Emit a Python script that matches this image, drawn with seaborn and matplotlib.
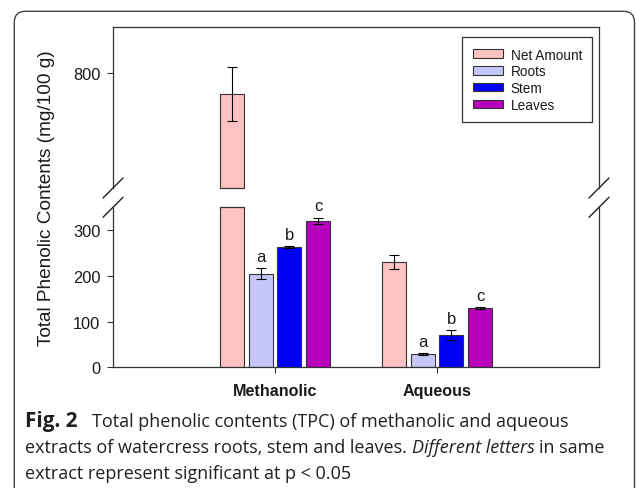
import matplotlib
matplotlib.use("Agg")
import matplotlib.pyplot as plt
import matplotlib.transforms as mtransforms
from matplotlib.patches import FancyBboxPatch
from matplotlib.container import BarContainer
from matplotlib import font_manager
import pandas as pd
import seaborn as sns

# Total phenolic contents (mg/100 g) per extract and plant part
extracts = ["Methanolic", "Aqueous"]
parts = ["Net Amount", "Roots", "Stem", "Leaves"]
tpc_methanolic = [788, 205, 263, 321]
tpc_aqueous = [230, 29, 70, 130]
sd_methanolic = [16, 12, 2.5, 6.5]
sd_aqueous = [15, 2, 11, 1.5]
letters_methanolic = ["", "a", "b", "c"]
letters_aqueous = ["", "a", "b", "c"]
palette = ["#FFC2C2", "#C6C6FA", "#0000F5", "#B800BC"]

lower_ylim = (0, 350)
upper_ylim = (733, 827)

df = pd.DataFrame({
    "extract": [e for e in extracts for _ in parts],
    "part": parts * len(extracts),
    "tpc": tpc_methanolic + tpc_aqueous,
    "sd": sd_methanolic + sd_aqueous,
    "letter": letters_methanolic + letters_aqueous,
})

sns.set_style("ticks")
plt.rcParams["font.family"] = ["Liberation Sans", "DejaVu Sans"]

W_PX, H_PX = 636, 489
fig = plt.figure(figsize=(W_PX / 100, H_PX / 100), dpi=100)

left, right = 113 / W_PX, 599 / W_PX
ax_top = fig.add_axes([left, 1 - 189 / H_PX, right - left, (189 - 28.3) / H_PX])
ax_bot = fig.add_axes([left, 1 - 368.3 / H_PX, right - left, (368.3 - 208.3) / H_PX])

EDGE = "#333333"
TEXT = "#1a1a1a"
bars_of = {}

for ax in (ax_top, ax_bot):
    sns.barplot(data=df, x="extract", y="tpc", hue="part", order=extracts,
                hue_order=parts, palette=palette, saturation=1, width=0.71,
                gap=0.16, errorbar=None, edgecolor=EDGE, linewidth=0.8,
                legend=False, ax=ax)
    bars_of[ax] = [c for c in ax.containers if isinstance(c, BarContainer)]
    ax.set_xlim(-1, 2)
    ax.set_xlabel("")
    ax.set_ylabel("")
    for sp in ax.spines.values():
        sp.set_color(EDGE)
        sp.set_linewidth(0.9)
    ax.tick_params(axis="y", length=4, width=0.8, color=EDGE, pad=5,
                   labelsize=11.8, labelcolor=TEXT)

    # error bars placed on each bar drawn by seaborn
    for part, cont in zip(parts, bars_of[ax]):
        for bar in cont:
            xc = bar.get_x() + bar.get_width() / 2
            ext = extracts[int(round(xc))]
            row = df[(df.extract == ext) & (df.part == part)].iloc[0]
            ax.errorbar(xc, row.tpc, yerr=row.sd, fmt="none", ecolor="black",
                        elinewidth=0.8, capsize=3.6, capthick=0.8)

ax_bot.set_ylim(*lower_ylim)
ax_top.set_ylim(*upper_ylim)
ax_bot.set_yticks([0, 100, 200, 300])
ax_top.set_yticks([800])

ax_top.spines["bottom"].set_visible(False)
ax_bot.spines["top"].set_visible(False)
ax_top.tick_params(axis="x", bottom=False, labelbottom=False)
ax_bot.tick_params(axis="x", length=4, width=0.8, color=EDGE, pad=7,
                   labelsize=11.6, labelcolor=TEXT)
for lbl in ax_bot.get_xticklabels():
    lbl.set_fontweight("bold")

# close off bars that cross the axis break
for cont in bars_of[ax_bot]:
    for bar in cont:
        if bar.get_height() > lower_ylim[1]:
            ax_bot.plot([bar.get_x(), bar.get_x() + bar.get_width()],
                        [lower_ylim[1]] * 2, color=EDGE, lw=0.9, clip_on=False)
for cont in bars_of[ax_top]:
    for bar in cont:
        if bar.get_height() > upper_ylim[0]:
            ax_top.plot([bar.get_x(), bar.get_x() + bar.get_width()],
                        [upper_ylim[0]] * 2, color=EDGE, lw=0.9, clip_on=False)

# significance letters
for part, cont in zip(parts, bars_of[ax_bot]):
    for bar in cont:
        xc = bar.get_x() + bar.get_width() / 2
        ext = extracts[int(round(xc))]
        row = df[(df.extract == ext) & (df.part == part)].iloc[0]
        if row.letter:
            ax_bot.annotate(row.letter, xy=(xc, row.tpc + row.sd),
                            xytext=(0, 3.0), textcoords="offset points",
                            ha="center", va="bottom", fontsize=12, color=TEXT)

# axis break slashes (20 px long, centred on the spine ends)
d = 0.1
for ax, yk in ((ax_top, 0), (ax_bot, 1)):
    for xk in (0, 1):
        tr = fig.dpi_scale_trans + mtransforms.ScaledTranslation(xk, yk, ax.transAxes)
        ax.plot([-d, d], [-d, d], transform=tr, color="#222222", lw=1.0,
                clip_on=False)

# legend built from the plotted bars
handles = [cont.patches[0] for cont in bars_of[ax_top]]
leg = ax_top.legend(handles, parts, loc="upper right",
                    bbox_to_anchor=(592.3 / W_PX, 1 - 38.3 / H_PX),
                    bbox_transform=fig.transFigure, borderaxespad=0,
                    fontsize=9.8, handlelength=2.25, handleheight=0.6,
                    labelspacing=0.2, handletextpad=0.55, borderpad=0.75,
                    fancybox=False, framealpha=1, edgecolor=EDGE)
leg.get_frame().set_linewidth(0.9)
for t in leg.get_texts():
    t.set_color(TEXT)

fig.text(47 / W_PX, 1 - 198.5 / H_PX, "Total Phenolic Contents (mg/100 g)",
         rotation=90, ha="center", va="center", fontsize=13.7, color=TEXT)

# rounded card frame around figure and caption
card = FancyBboxPatch((14.3, -30), 634.5 - 14.3, (H_PX - 12.3) + 30,
                      boxstyle="round,pad=0,rounding_size=11",
                      transform=mtransforms.IdentityTransform(),
                      facecolor="none", edgecolor="#444444", lw=1.0)
fig.add_artist(card)

# caption
names = {f.name for f in font_manager.fontManager.ttflist}
if "Liberation Sans Narrow" in names:
    cap_family, cap_size = "Liberation Sans Narrow", 15.5
else:
    cap_family, cap_size = "Open Sans", 13.0
CAP = "#231f20"
renderer = fig.canvas.get_renderer()


def width_of(s, **kw):
    t = fig.text(0, 0, s, family=cap_family, fontsize=cap_size, **kw)
    w = t.get_window_extent(renderer).width
    t.remove()
    return w


space_w = width_of("x x") - width_of("xx")


def caption_line(y_px, pieces, x_px=25):
    """Lay out caption pieces left to right; a piece may pin its own x."""
    x = x_px
    for txt, kw, gap in pieces:
        kw = dict(kw)
        x = kw.pop("x_px", x)
        size = kw.pop("size", cap_size)
        t = fig.text(x / W_PX, 1 - y_px / H_PX, txt, family=cap_family,
                     fontsize=size, color=CAP, ha="left", va="baseline", **kw)
        x += t.get_window_extent(renderer).width + gap


caption_line(427.3, [("Fig. 2", {"fontweight": "bold", "size": cap_size * 1.15}, 0),
                     ("Total phenolic contents (TPC) of methanolic and aqueous",
                      {"x_px": 91.7}, 0)])
caption_line(453.3, [("extracts of watercress roots, stem and leaves.", {}, space_w),
                     ("Different letters", {"fontstyle": "italic"}, space_w),
                     ("in same", {}, 0)])
caption_line(479.3, [("extract represent significant at p < 0.05", {}, 0)])

fig.savefig("out.png", dpi=100)
